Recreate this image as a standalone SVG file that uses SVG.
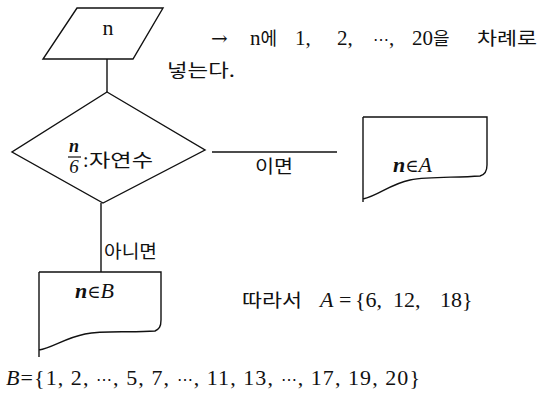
<svg xmlns="http://www.w3.org/2000/svg" width="538" height="393" viewBox="0 0 538 393">
<style>
.s{fill:none;stroke:#111;stroke-width:1.4;stroke-linejoin:miter}
.k{font-family:"Noto Sans CJK KR",sans-serif;font-size:18px;fill:#111}
</style>
<rect width="538" height="393" fill="#fff"/>
<g id="connectors">
<line class="s" x1="107" y1="59" x2="107" y2="92"/>
<line class="s" x1="212" y1="152" x2="337" y2="152"/>
<line class="s" x1="101" y1="203" x2="101" y2="272"/>
</g>
<g id="input">
<polygon class="s" points="77,8 163,8 133,59 43,59"/>
<text font-family="Liberation Serif" font-size="22" fill="#111" x="108" y="35" text-anchor="middle">n</text>
</g>
<g id="decision">
<polygon class="s" points="107,92 205,150 103,203 12,152"/>
<text font-family="Liberation Serif" font-style="italic" font-weight="bold" font-size="18" fill="#111" x="74" y="152" text-anchor="middle">n</text>
<line x1="68" y1="157" x2="81" y2="157" stroke="#111" stroke-width="1.2"/>
<text font-family="Liberation Serif" font-style="italic" font-size="19" fill="#111" x="74" y="173" text-anchor="middle">6</text>
<text font-family="Liberation Serif" font-size="20" fill="#111" x="83" y="167">:</text>
<text class="k" x="89" y="167" textLength="64" lengthAdjust="spacingAndGlyphs">자연수</text>
</g>
<g id="outA">
<path class="s" d="M363,117 H487 V165 C487,172 484,175 480,176 C455,178 430,176 410,180 C390,184 378,196 363,199 M363,117 V202"/>
<text font-family="Liberation Serif" font-style="italic" font-size="22" fill="#111" x="393" y="172"><tspan font-weight="bold">n</tspan><tspan font-family="DejaVu Serif" font-style="normal" font-size="18">∈</tspan>A</text>
</g>
<g id="outB">
<path class="s" d="M39,272 H161 V320 C161,327 159,329 155,331 C130,333 105,330 85,334 C65,338 52,348 39,350 M39,272 V357"/>
<text font-family="Liberation Serif" font-style="italic" font-size="22" fill="#111" x="75" y="298"><tspan font-weight="bold">n</tspan><tspan font-family="DejaVu Serif" font-style="normal" font-size="18">∈</tspan>B</text>
</g>
<g id="labels">
<text class="k" x="255" y="173" textLength="38" lengthAdjust="spacingAndGlyphs">이면</text>
<text class="k" x="104" y="258" textLength="53" lengthAdjust="spacingAndGlyphs">아니면</text>
<g font-family="Liberation Serif" font-size="21" fill="#111">
<text x="211" y="45" font-family="DejaVu Serif" font-size="20">→</text>
<text x="250" y="45">n<tspan class="k">에</tspan></text>
<text x="295" y="45">1,</text>
<text x="337" y="45">2,</text>
<text x="373" y="45"><tspan font-family="DejaVu Serif" font-size="16">⋯</tspan>,</text>
<text x="412" y="45">20<tspan class="k">을</tspan></text>
</g>
<text class="k" x="477" y="45" textLength="60" lengthAdjust="spacingAndGlyphs">차례로</text>
<text class="k" x="167" y="77" textLength="68" lengthAdjust="spacingAndGlyphs">넣는다.</text>
<text class="k" x="242" y="307" textLength="60" lengthAdjust="spacingAndGlyphs">따라서</text>
<text font-family="Liberation Serif" font-size="22" fill="#111" y="307"><tspan x="320" font-style="italic">A</tspan><tspan x="339">=</tspan><tspan x="355">{6,</tspan><tspan x="393">12,</tspan><tspan x="440">18}</tspan></text>
<text font-family="Liberation Serif" font-size="22" fill="#111" x="6" y="385" textLength="414" lengthAdjust="spacing"><tspan font-style="italic">B</tspan>={1, 2, <tspan font-family="DejaVu Serif" font-size="16">⋯</tspan>, 5, 7, <tspan font-family="DejaVu Serif" font-size="16">⋯</tspan>, 11, 13, <tspan font-family="DejaVu Serif" font-size="16">⋯</tspan>, 17, 19, 20}</text>
</g>
</svg>
